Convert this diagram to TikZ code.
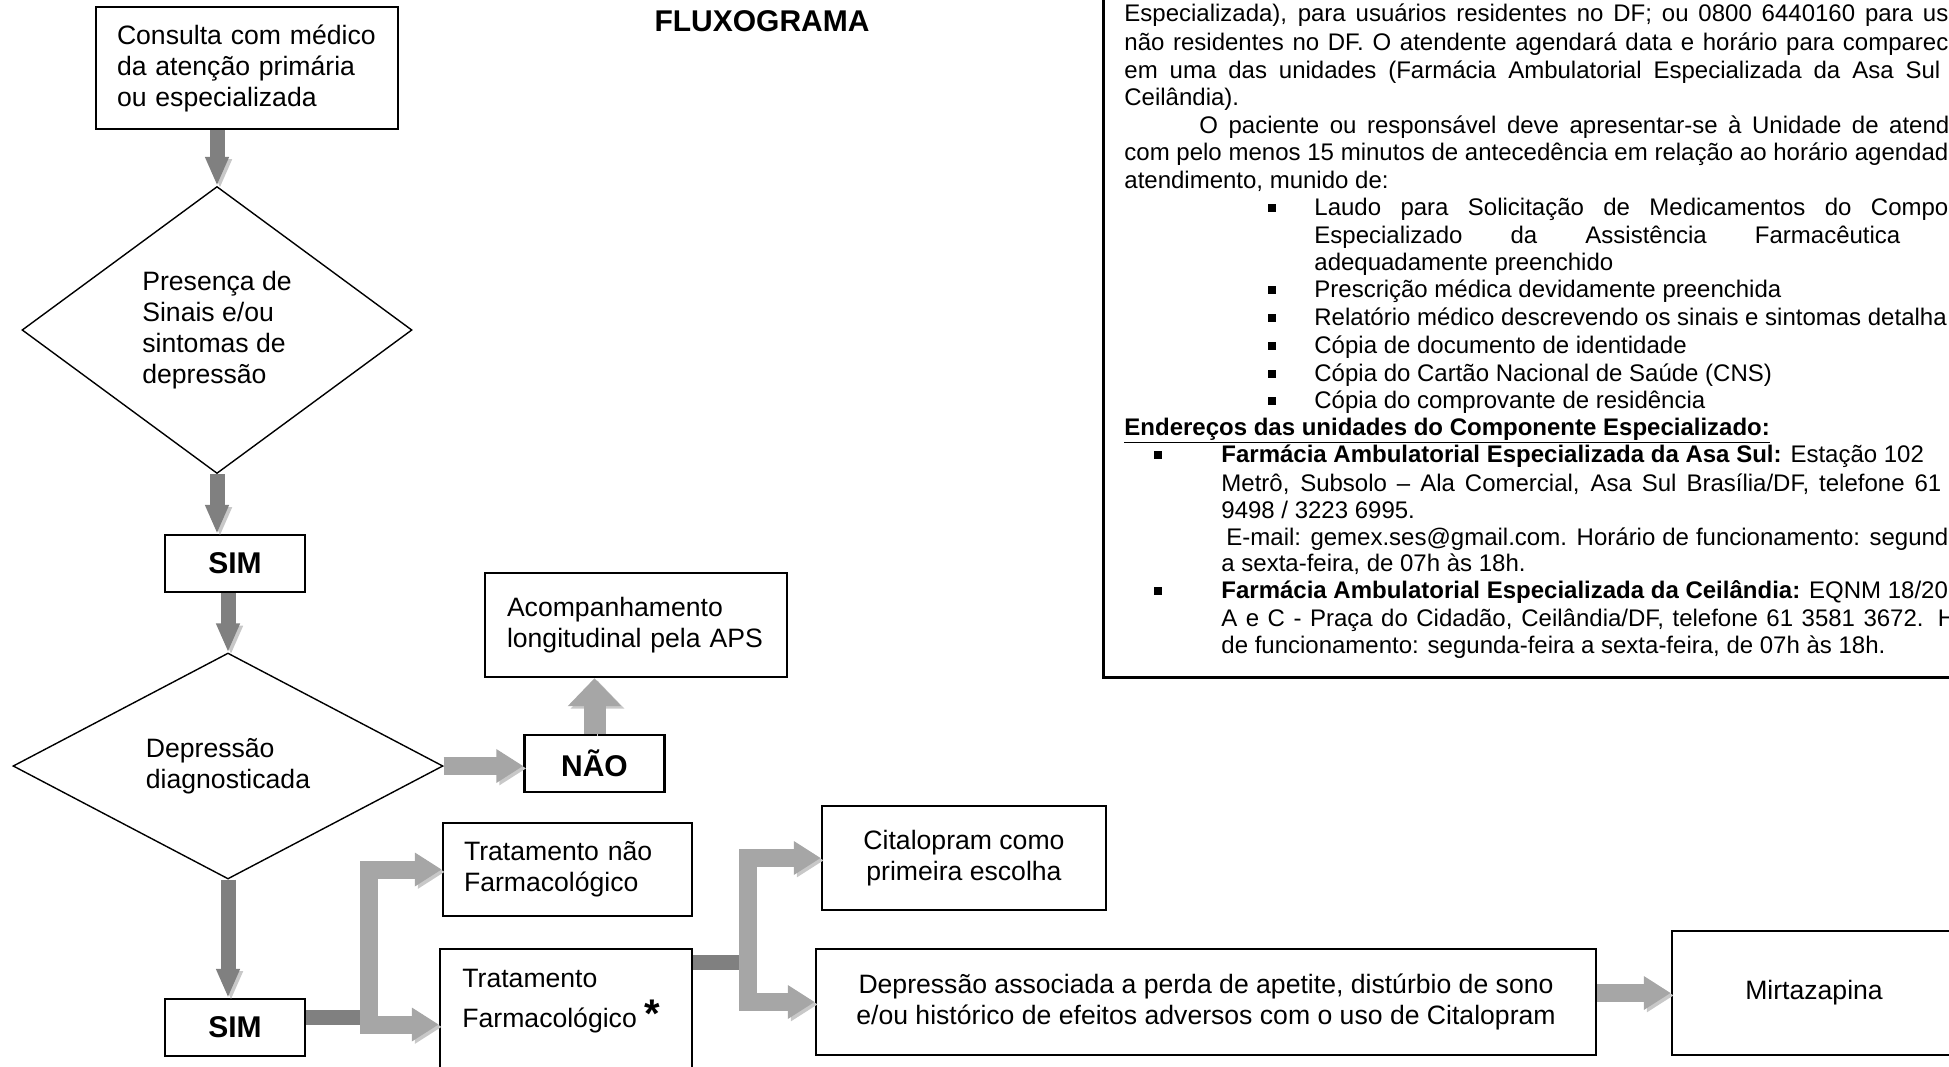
\documentclass[tikz,border=0pt]{standalone}
\usepackage{fontspec}
\setmainfont{Liberation Sans}
\usetikzlibrary{arrows.meta,shapes.geometric}

\definecolor{arrowdark}{HTML}{808080}
\definecolor{arrowlight}{HTML}{A6A6A6}
\definecolor{arrowshade}{HTML}{C8C8C8}
\newcommand{\flowfont}{\fontsize{13.3pt}{15.5pt}\selectfont}
\newcommand{\infofont}{\fontsize{12pt}{13.6pt}\selectfont}

\tikzset{
  box/.style={draw, line width=1.2pt, inner xsep=10.5pt, inner ysep=0pt, font=\flowfont},
  answer/.style={draw, line width=1.2pt, inner sep=0pt, minimum width=70pt, minimum height=28.5pt,
    font=\fontsize{15pt}{17pt}\selectfont\bfseries},
  decision/.style={diamond, draw, line width=0.7pt, inner sep=0pt, align=left, font=\flowfont},
  shade/.style={preaction={draw=arrowshade, transform canvas={shift={(1.5pt,-1.2pt)}}}},
  darkarrow/.style={shade, draw=arrowdark, line width=7.5pt, -{Triangle[length=14.5pt,width=11pt]}},
  lightarrow/.style={shade, draw=arrowlight, line width=9pt, line join=miter, -{Triangle[length=13.5pt,width=16pt]}},
  uparrow/.style={shade, draw=arrowlight, line width=11pt, -{Triangle[length=14pt,width=26pt]}},
  darkbar/.style={draw=arrowdark, line width=7.5pt},
  infoline/.style={anchor=base west, inner sep=0pt, font=\infofont},
  dot/.style={fill=black, inner sep=0pt, minimum width=3.6pt, minimum height=4.2pt}
}

\begin{document}
\begin{tikzpicture}[x=0.5pt, y=-0.5pt]
  \useasboundingbox (0,0) rectangle (1949,1066);
  \clip (0,0) rectangle (1949,1066);

  %%%%% FLUXOGRAMA %%%%%
  \node[font=\fontsize{15pt}{17pt}\selectfont\bfseries] (title) at (762,21) {FLUXOGRAMA};

  \node[box, align=left, text width=130pt, minimum height=61pt] (consulta) at (247,68)
    {Consulta com médico\\da atenção primária\\ou especializada};
  \node[decision, minimum width=195pt, minimum height=143.5pt] (q1) at (217,330)
    {Presença de\\Sinais e/ou\\sintomas de\\depressão};
  \node[answer] (sim1) at (235,563.5) {SIM};
  \node[decision, minimum width=215pt, minimum height=113pt] (q2) at (228,766)
    {Depressão\\diagnosticada};
  \node[answer] (nao) at (594.5,763.5) {NÃO};
  \node[box, align=left, inner xsep=11pt, text width=129pt, minimum height=52pt] (acomp) at (636,625)
    {Acompanhamento\\longitudinal pela APS};
  \node[answer] (sim2) at (235,1027.5) {SIM};

  \node[box, align=left, text width=103.5pt, minimum height=46.5pt] (tnf) at (567.5,869.5)
    {Tratamento não\\Farmacológico};
  \node[box, minimum width=126pt, minimum height=75.5pt] (tf) at (566,1024.5) {};
  \node[font=\flowfont, anchor=base west, inner sep=0pt] (tftop) at (462,987) {Tratamento};
  \node[font=\flowfont, anchor=base west, inner sep=0pt] (tfbottom) at (462,1027)
    {Farmacológico {\fontsize{20pt}{20pt}\selectfont\bfseries *}};

  \node[box, align=center, minimum width=142pt, minimum height=52pt] (cita) at (964,858)
    {Citalopram como\\primeira escolha};
  \node[box, align=center, minimum width=390pt, minimum height=53pt] (dep) at (1206,1002)
    {Depressão associada a perda de apetite, distúrbio de sono\\e/ou histórico de efeitos adversos com o uso de Citalopram};
  \node[box, minimum width=142pt, minimum height=62pt] (mirt) at (1814,993) {Mirtazapina};

  % setas
  \draw[darkarrow] (consulta.south -| q1.north) -- (q1.north);
  \draw[darkarrow] (q1.south) -- (q1.south |- sim1.north);
  \draw[darkarrow] (sim1.south -| q2.north) -- (q2.north);
  \draw[darkarrow] (q2.south) -- (q2.south |- sim2.north);
  \draw[lightarrow] (q2.east) -- (q2.east -| nao.west);
  \draw[uparrow] (nao.north) -- (nao.north |- acomp.south);

  \coordinate (j1) at (369,1017);
  \coordinate (j2) at (748,962);
  \draw[darkbar] (sim2.east |- j1) -- (j1);
  \draw[lightarrow] (j1) |- (tnf.west);
  \draw[lightarrow] (j1) |- (tf.west);
  \draw[darkbar] (tf.east |- j2) -- (j2);
  \draw[lightarrow] (j2) |- (cita.west);
  \draw[lightarrow] (j2) |- (dep.west);
  \draw[lightarrow] (mirt.west -| dep.east) -- (mirt.west);

  %%%%% QUADRO DE INFORMACOES %%%%%
  \node[draw, line width=1.5pt, inner sep=0pt, minimum width=443.5pt, minimum height=348.5pt] (infobox) at (1546.5,328.5) {};

  \node[infoline] (info1) at (1124,21) {\makebox[412pt][s]{Especializada), para usuários residentes no DF; ou 0800 6440160 para us}};
  \node[infoline] (info2) at (1124,50) {\makebox[412pt][s]{não residentes no DF. O atendente agendará data e horário para comparec}};
  \node[infoline] (info3) at (1124,78) {\makebox[408pt][s]{em uma das unidades (Farmácia Ambulatorial Especializada da Asa Sul}};
  \node[infoline] (info4) at (1124,105) {Ceilândia).};
  \node[infoline] (info5) at (1199,133) {\makebox[375pt][s]{O paciente ou responsável deve apresentar-se à Unidade de atend}};
  \node[infoline] (info6) at (1124,160) {\makebox[412pt][s]{com pelo menos 15 minutos de antecedência em relação ao horário agendad}};
  \node[infoline] (info7) at (1124,188) {atendimento, munido de:};

  \node[dot] (dot1) at (1272,208) {};
  \node[infoline] (info8) at (1314,215) {\makebox[317pt][s]{Laudo para Solicitação de Medicamentos do Compo}};
  \node[infoline] (info9) at (1314,243) {\makebox[293pt][s]{Especializado da Assistência Farmacêutica}};
  \node[infoline] (info10) at (1314,270) {adequadamente preenchido};
  \node[dot] (dot2) at (1272,290) {};
  \node[infoline] (info11) at (1314,297) {Prescrição médica devidamente preenchida};
  \node[dot] (dot3) at (1272,318) {};
  \node[infoline] (info12) at (1314,325) {Relatório médico descrevendo os sinais e sintomas detalha};
  \node[dot] (dot4) at (1272,346) {};
  \node[infoline] (info13) at (1314,353) {Cópia de documento de identidade};
  \node[dot] (dot5) at (1272,374) {};
  \node[infoline] (info14) at (1314,381) {Cópia do Cartão Nacional de Saúde (CNS)};
  \node[dot] (dot6) at (1272,401) {};
  \node[infoline] (info15) at (1314,408) {Cópia do comprovante de residência};

  \node[infoline] (info16) at (1124,435) {\underline{\textbf{Endereços das unidades do Componente Especializado:}}};
  \node[dot] (dot7) at (1158,455) {};
  \node[infoline] (info17) at (1221,462) {\textbf{Farmácia Ambulatorial Especializada da Asa Sul:} Estação 102};
  \node[infoline] (info18) at (1221,491) {\makebox[360pt][s]{Metrô, Subsolo – Ala Comercial, Asa Sul Brasília/DF, telefone 61}};
  \node[infoline] (info19) at (1221,518) {9498 / 3223 6995.};
  \node[infoline] (info20) at (1226,545) {\makebox[361pt][s]{E-mail: gemex.ses@gmail.com. Horário de funcionamento: segund}};
  \node[infoline] (info21) at (1221,571) {a sexta-feira, de 07h às 18h.};
  \node[dot] (dot8) at (1158,591) {};
  \node[infoline] (info22) at (1221,598) {\textbf{Farmácia Ambulatorial Especializada da Ceilândia:} EQNM 18/20};
  \node[infoline] (info23) at (1221,626) {\makebox[367pt][s]{A e C - Praça do Cidadão, Ceilândia/DF, telefone 61 3581 3672. H}};
  \node[infoline] (info24) at (1221,653) {de funcionamento: segunda-feira a sexta-feira, de 07h às 18h.};
\end{tikzpicture}
\end{document}
